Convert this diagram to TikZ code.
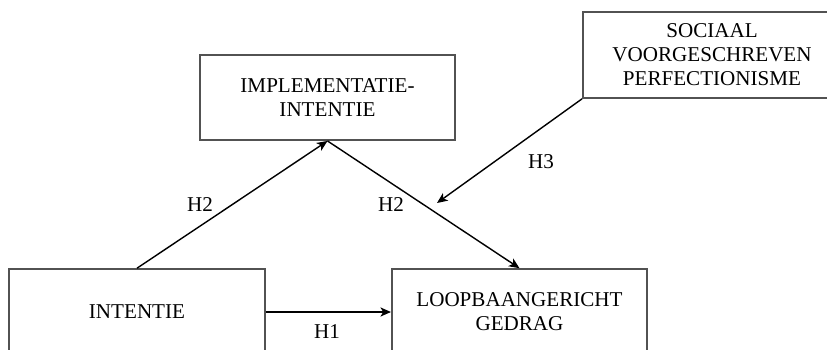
\documentclass[tikz,border=0pt]{standalone}
\usepackage{fontspec}
\setmainfont{Liberation Serif}
\usetikzlibrary{arrows.meta, positioning}

\begin{document}
\begin{tikzpicture}[
        x=0.025cm, y=-0.025cm,
        box/.style={
            draw=black!68,
            fill=white,
            line width=1.3pt,
            minimum width=181.5pt,
            minimum height=61pt,
            font=\fontsize{15pt}{17pt}\selectfont,
            align=center
          },
        lbl/.style={font=\fontsize{15pt}{17pt}\selectfont},
        arr/.style={-{Stealth[length=7.5pt, width=6.5pt, inset=2pt]}, black, line width=1pt}
      ]
      \useasboundingbox (0,0) rectangle (827,349);

      \node[box] (intentie) at (137,312) {INTENTIE};
      \node[box] (gedrag) at (519.5,312) {LOOPBAANGERICHT\\GEDRAG};
      \node[box, minimum height=60.5pt] (impl) at (327.5,97.5) {IMPLEMENTATIE-\\INTENTIE};
      \node[box, minimum width=183.5pt] (perf) at (712,55) {SOCIAAL\\VOORGESCHREVEN\\PERFECTIONISME};

      \coordinate (h3end) at (437,203);

      \draw[arr] (intentie.north) -- (impl.south);
      \draw[arr] (impl.south) -- (gedrag.north);
      \draw[arr] (intentie.east) -- (gedrag.west);
      \draw[arr] (perf.south west) -- (h3end);

      \node[lbl] (lh2a) at (200,205) {H2};
      \node[lbl] (lh2b) at (391,205) {H2};
      \node[lbl] (lh3) at (541,162) {H3};
      \node[lbl] (lh1) at (327,332) {H1};
    \end{tikzpicture}
\end{document}
